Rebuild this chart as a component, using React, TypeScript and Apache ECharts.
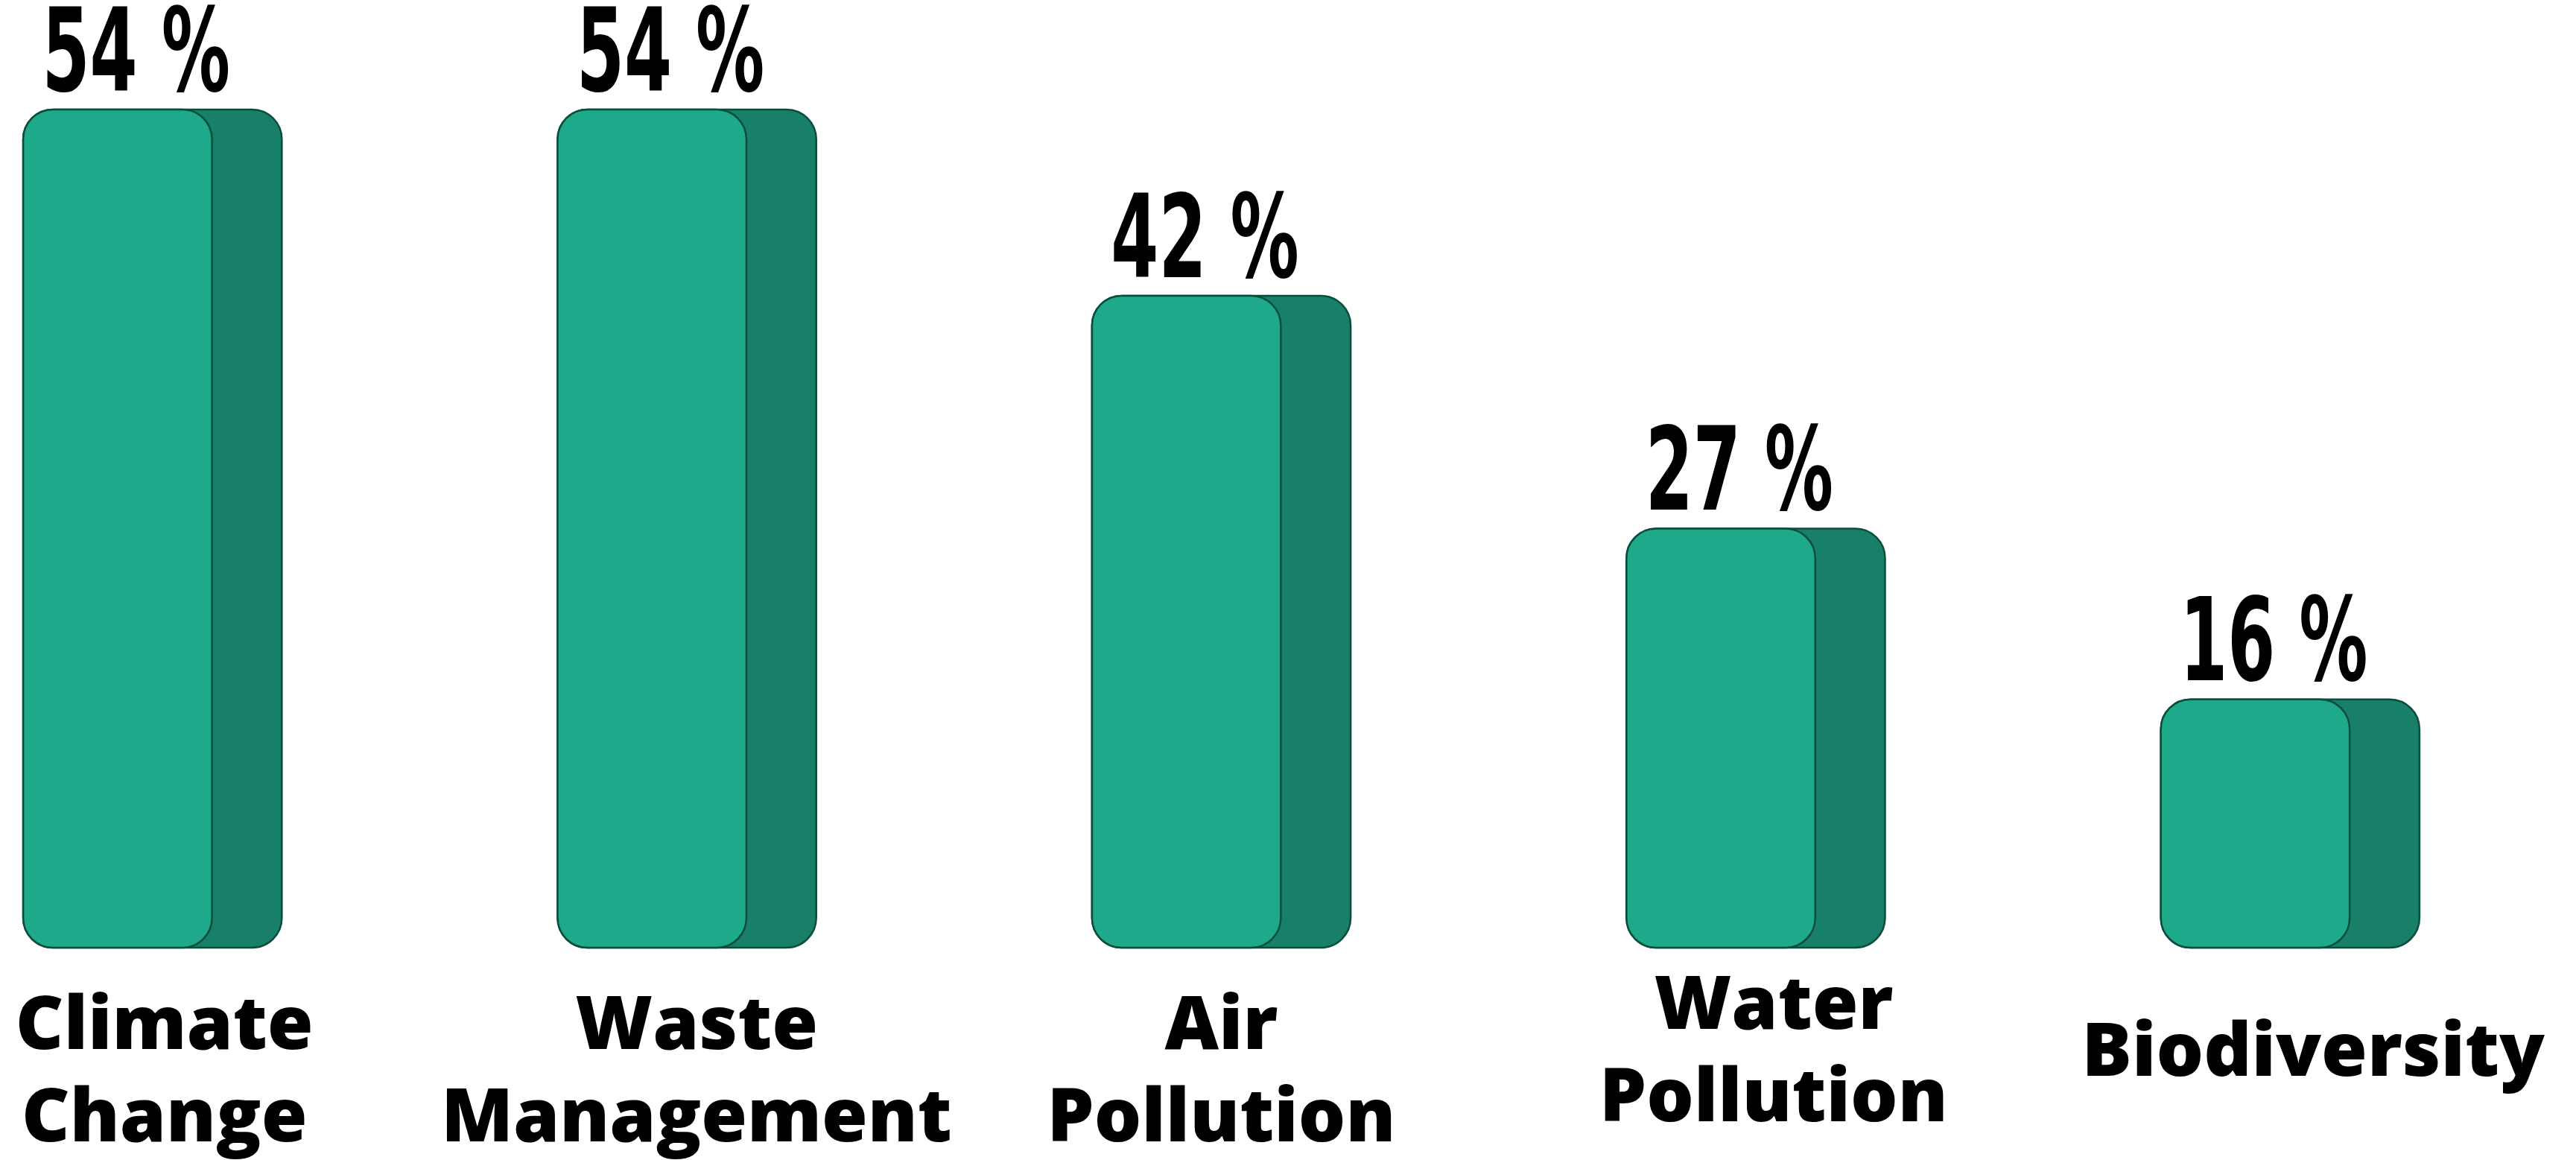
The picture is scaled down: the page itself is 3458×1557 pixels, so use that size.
import React, { useEffect, useRef } from 'react';
import * as echarts from 'echarts';

const categories = ['Climate\nChange', 'Waste\nManagement', 'Air\nPollution', 'Water\nPollution', 'Biodiversity'];
const values = [54, 54, 42, 27, 16];
const valueSuffix = ' %';

const FRONT = '#1DA98A';
const BACK = '#187F69';
const EDGE = '#0B4D3C';
const PCT_FONT = "'DejaVu Sans Condensed', 'DejaVu Sans', sans-serif";
const CAT_FONT = "'Open Sans', 'Noto Sans', sans-serif";
// label nudges (styling only): [top padding, left padding]
const labelPad = [
  [27, 32],
  [27, 26],
  [27, 0],
  [0, 48],
  [63, 62],
];

export default function App() {
  const ref = useRef<HTMLDivElement>(null);
  useEffect(() => {
    if (!ref.current) return;
    const chart = echarts.init(ref.current, null, { renderer: 'svg' });

    const renderItem = (params: any, api: any) => {
      const i = api.value(0);
      const v = api.value(1);
      const topPt = api.coord([i, v]);
      const basePt = api.coord([i, 0]);
      const band = api.size([1, 0])[0];
      const total = band * 0.484;
      const frontW = total * 0.73;
      const left = topPt[0] - total / 2;
      const h = basePt[1] - topPt[1];
      const r = 40;
      return {
        type: 'group',
        children: [
          {
            type: 'rect',
            shape: { x: left, y: topPt[1], width: total, height: h, r },
            style: { fill: BACK, stroke: EDGE, lineWidth: 2.5 },
          },
          {
            type: 'rect',
            shape: { x: left, y: topPt[1], width: frontW, height: h, r },
            style: { fill: FRONT, stroke: EDGE, lineWidth: 2.5 },
          },
          {
            type: 'text',
            x: topPt[0] - 22,
            y: topPt[1] - 79,
            scaleX: 0.66,
            style: {
              text: `${v}${valueSuffix}`,
              x: 0,
              y: 0,
              fontSize: 155,
              fontFamily: PCT_FONT,
              fontWeight: 'bold',
              fill: '#000',
              align: 'center',
              verticalAlign: 'middle',
            },
          },
        ],
      };
    };

    chart.setOption({
      animation: false,
      backgroundColor: '#ffffff',
      grid: { left: -154, right: 25, top: 22, bottom: 285, containLabel: false, outerBoundsMode: 'none' },
      xAxis: {
        type: 'category',
        data: categories.map((c, i) => ({
          value: c,
          textStyle: { padding: [labelPad[i][0], 0, 0, labelPad[i][1]] },
        })),
        axisLine: { show: false },
        axisTick: { show: false },
        splitLine: { show: false },
        axisLabel: {
          interval: 0,
          margin: 8,
          fontFamily: CAT_FONT,
          fontWeight: 800,
          fontSize: 100,
          lineHeight: 124,
          color: '#000',
        },
      },
      yAxis: { type: 'value', min: 0, max: 60, show: false, splitLine: { show: false } },
      series: [
        {
          type: 'custom',
          renderItem,
          encode: { x: 0, y: 1 },
          data: values.map((v, i) => [i, v]),
        },
      ],
    });
    return () => chart.dispose();
  }, []);
  return <div ref={ref} style={{ position: 'fixed', left: 0, top: 0, width: '100vw', height: '100vh' }} />;
}
